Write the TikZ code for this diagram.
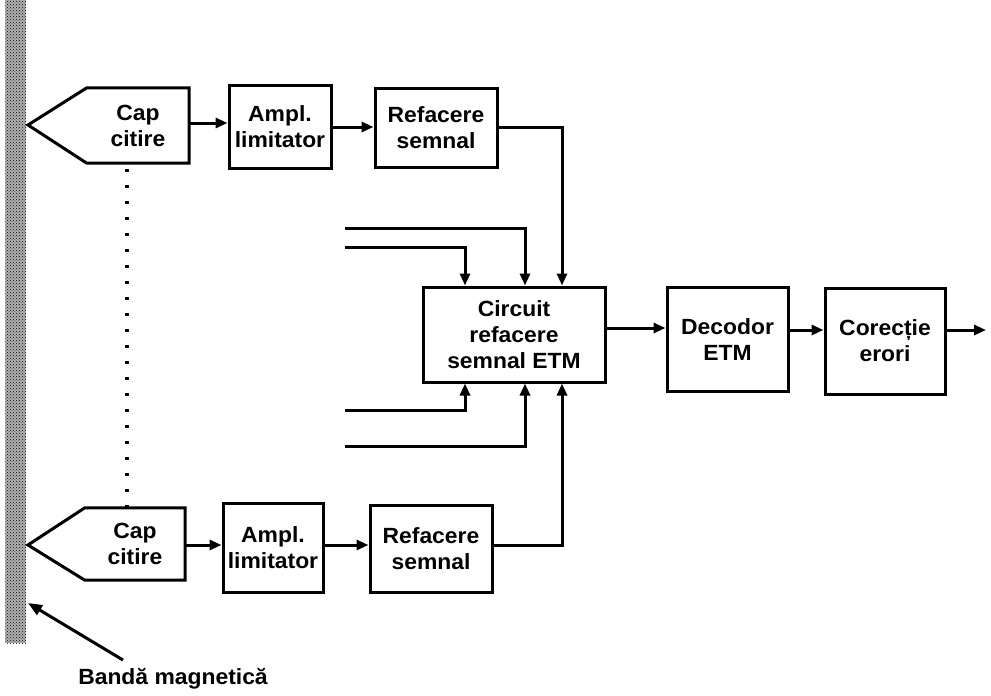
\documentclass[tikz,border=0pt]{standalone}
\usepackage{fontspec}
\newfontfamily\lbl{Liberation Sans}[FakeStretch=1.04]
\usetikzlibrary{arrows.meta,patterns}
\begin{document}
\begin{tikzpicture}[x=1pt,y=-1pt,
  blk/.style={draw, line width=3pt, align=center, inner sep=0pt,
    font=\lbl\bfseries\fontsize{22}{26}\selectfont},
  txt/.style={align=center, inner sep=0pt,
    font=\lbl\bfseries\fontsize{22}{26}\selectfont},
  arr/.style={line width=3pt, -{Triangle[length=12pt,width=10pt]}},
  headline/.style={line width=3pt, line join=miter}]
\useasboundingbox (0,0) rectangle (991,696);
% magnetic tape
\fill[gray!60] (5,0) rectangle (26,643);
\fill[pattern=crosshatch dots, pattern color=black] (5,0) rectangle (26,643);
% read heads
\node[txt, minimum width=102pt, minimum height=75pt] (capA) at (138,125.5) {Cap\\citire};
\coordinate (tipA) at (28,125);
\draw[headline] (tipA) -- (capA.north west) -- (capA.north east) -- (capA.south east) -- (capA.south west) -- cycle;
\node[txt, minimum width=100pt, minimum height=72pt] (capB) at (135,544) {Cap\\citire};
\coordinate (tipB) at (28,545);
\draw[headline] (tipB) -- (capB.north west) -- (capB.north east) -- (capB.south east) -- (capB.south west) -- cycle;
% blocks
\node[blk, minimum width=102pt, minimum height=83pt] (ampA) at (280,126.5) {Ampl.\\limitator};
\node[blk, minimum width=122pt, minimum height=79pt] (refA) at (436,127.5) {Refacere\\semnal};
\node[blk, minimum width=100pt, minimum height=89pt] (ampB) at (273,547.5) {Ampl.\\limitator};
\node[blk, minimum width=122pt, minimum height=87pt] (refB) at (431,548.5) {Refacere\\semnal};
\node[blk, minimum width=182pt, minimum height=95pt] (circ) at (514,334.5) {Circuit\\refacere\\semnal ETM};
\node[blk, minimum width=121pt, minimum height=104pt] (dec) at (727.5,339.5) {Decodor\\ETM};
\node[blk, minimum width=120pt, minimum height=106pt] (cor) at (885,341) {Corecție\\erori};
% connections top path
\draw[arr] (capA.east |- 0,123) -- (ampA.west |- 0,123);
\draw[arr] (ampA.east |- 0,127) -- (refA.west |- 0,127);
\draw[arr] (refA.east |- 0,127) -| (562,0 |- circ.north);
% bottom path
\draw[arr] (capB.east |- 0,545) -- (ampB.west |- 0,545);
\draw[arr] (ampB.east |- 0,545) -- (refB.west |- 0,545);
\draw[arr] (refB.east |- 0,545) -| (562,0 |- circ.south);
% other channel inputs
\coordinate (i1) at (345,228);
\coordinate (i2) at (345,247);
\coordinate (i3) at (345,410);
\coordinate (i4) at (345,446);
\draw[arr] (i1) -| (525,0 |- circ.north);
\draw[arr] (i2) -| (465,0 |- circ.north);
\draw[arr] (i3) -| (465,0 |- circ.south);
\draw[arr] (i4) -| (525,0 |- circ.south);
% output chain
\draw[arr] (circ.east |- 0,328) -- (dec.west |- 0,328);
\draw[arr] (dec.east |- 0,330) -- (cor.west |- 0,330);
\coordinate (out) at (986,330);
\draw[arr] (cor.east |- 0,330) -- (out);
% dotted link between heads
\draw[line width=3.6pt, dash pattern=on 3pt off 13pt] (127,0 |- capA.south) ++(0,6) -- (127,0 |- capB.north);
% tape label
\node[txt] (banda) at (173,679) {Bandă magnetică};
\coordinate (tape) at (28,603);
\draw[line width=3pt, -{Triangle[length=14pt,width=11pt]}] (123,660) -- (tape);
\end{tikzpicture}
\end{document}
